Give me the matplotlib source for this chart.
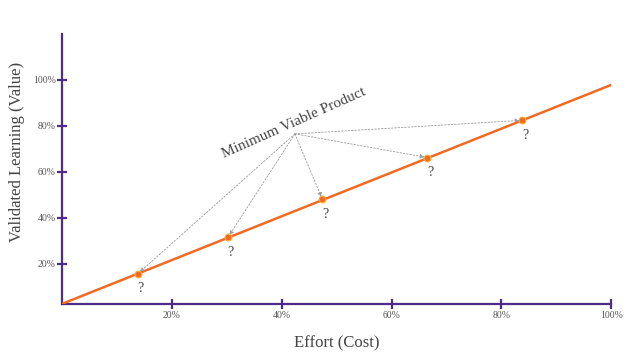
import matplotlib
matplotlib.use('Agg')
import matplotlib.pyplot as plt

# trend line end points (effort %, learning %)
line_x = [0, 100]
line_y = [2.6, 97.8]

# MVP iterations
point_x = [13.8, 30.2, 47.4, 66.5, 83.8]
point_y = [15.7, 31.5, 48.0, 66.2, 82.4]

mvp_label = 'Minimum Viable Product'
mvp_xy = (42.4, 76.5)

x_ticks = [20, 40, 60, 80, 100]
y_ticks = [20, 40, 60, 80, 100]

purple = '#4b2c8a'
orange = '#f26a21'
text_gray = '#444444'

plt.rcParams['font.family'] = ['Liberation Serif', 'DejaVu Serif']

fig = plt.figure(figsize=(6.4, 3.6), dpi=100)
ax = fig.add_axes([0.097, 0.156, 0.858, 0.75])

ax.plot(line_x, line_y, color=orange, lw=1.8, zorder=3)
ax.scatter(point_x, point_y, s=24, color=orange, edgecolor='#f7b23b',
           linewidth=0.8, zorder=4)

for px, py in zip(point_x, point_y):
    ax.annotate('', xy=(px, py), xytext=mvp_xy,
                arrowprops=dict(arrowstyle='-|>', color='#999999', lw=0.6,
                                ls=(0, (2, 2)), mutation_scale=6,
                                shrinkA=0, shrinkB=2))
    ax.annotate('?', xy=(px, py), xytext=(2, -11), textcoords='offset points',
                ha='center', va='center', fontsize=10, color=text_gray)

ax.text(mvp_xy[0] + 0.2, mvp_xy[1] + 2, mvp_label, rotation=24,
        ha='center', va='bottom', fontsize=11, color=text_gray,
        rotation_mode='anchor')

ax.set_xlim(0, 100)
ax.set_ylim(2.6, 120)
ax.set_xticks(x_ticks)
ax.set_yticks(y_ticks)
ax.set_xticklabels([f'{t}%' for t in x_ticks])
ax.set_yticklabels([f'{t}%' for t in y_ticks])

for side in ['top', 'right']:
    ax.spines[side].set_visible(False)
for side in ['left', 'bottom']:
    ax.spines[side].set_color(purple)
    ax.spines[side].set_linewidth(1.6)

ax.tick_params(axis='both', direction='inout', length=7, width=1.6,
               color=purple, labelsize=7, labelcolor='#555555')
ax.tick_params(axis='x', pad=2)
ax.tick_params(axis='y', pad=1)

ax.set_xlabel('Effort (Cost)', fontsize=12, color=text_gray, labelpad=11)
ax.set_ylabel('Validated Learning (Value)', fontsize=12, color=text_gray)
ax.yaxis.set_label_coords(-0.068, 0.563)

plt.savefig('out.png', dpi=100)
